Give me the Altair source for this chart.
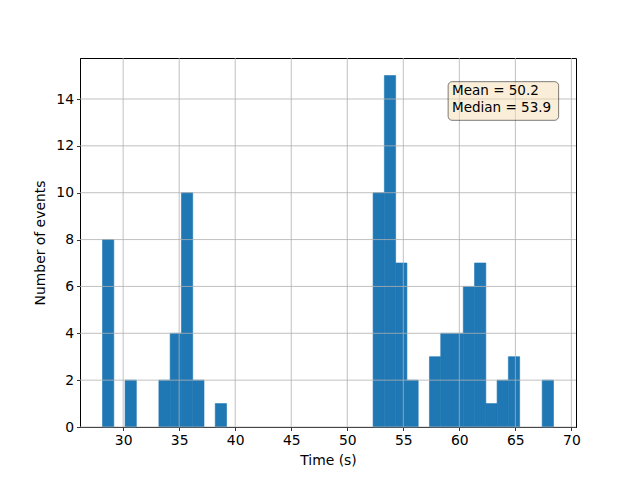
import altair as alt
import numpy as np
import pandas as pd

# Histogram: 40 bins between min and max of the sample
bin_lo = 28.16
bin_hi = 68.40
n_bins = 40
counts = [8, 0, 2, 0, 0, 2, 4, 10, 2, 0,
          1, 0, 0, 0, 0, 0, 0, 0, 0, 0,
          0, 0, 0, 0, 10, 15, 7, 2, 0, 3,
          4, 4, 6, 7, 1, 2, 3, 0, 0, 2]
x_ticks = [30, 35, 40, 45, 50, 55, 60, 65, 70]
y_ticks = [0, 2, 4, 6, 8, 10, 12, 14]
stats_text = "Mean = 50.2\nMedian = 53.9"

edges = np.linspace(bin_lo, bin_hi, n_bins + 1)
hist = pd.DataFrame({"start": edges[:-1], "end": edges[1:], "count": counts})
hist = hist[hist["count"] > 0]

xdom = [26.15, 70.41]
ydom = [0, 15.75]
xs = alt.Scale(domain=xdom, nice=False, zero=False)
ys = alt.Scale(domain=ydom, nice=False)

FONT = "DejaVu Sans"
FS = 13.9

bars = alt.Chart(hist).mark_bar(color="#1f77b4", stroke="#1f77b4", strokeWidth=0.6).encode(
    x=alt.X("start:Q", scale=xs, title="Time (s)",
            axis=alt.Axis(values=x_ticks, grid=False, format="d", titlePadding=6)),
    x2="end:Q",
    y=alt.Y("count:Q", scale=ys, title="Number of events",
            axis=alt.Axis(values=y_ticks, grid=False, format="d", titlePadding=8)),
    y2=alt.datum(0),
)

vgrid = alt.Chart(pd.DataFrame({"v": x_ticks})).mark_rule(
    color="#b0b0b0", strokeWidth=0.8).encode(x=alt.X("v:Q", scale=xs))
hgrid = alt.Chart(pd.DataFrame({"v": y_ticks})).mark_rule(
    color="#b0b0b0", strokeWidth=0.8).encode(y=alt.Y("v:Q", scale=ys))

box = alt.Chart(pd.DataFrame({"x": [59.0], "x2": [68.86], "y": [14.74], "y2": [13.09]})).mark_rect(
    fill="#f5deb3", fillOpacity=0.5, stroke="#000000", strokeOpacity=0.5,
    strokeWidth=1, cornerRadius=4).encode(
    x=alt.X("x:Q", scale=xs), x2="x2:Q",
    y=alt.Y("y:Q", scale=ys), y2="y2:Q")

label = alt.Chart(pd.DataFrame({"x": [59.35], "y": [14.66], "t": [stats_text]})).mark_text(
    align="left", baseline="top", font=FONT, fontSize=13.5, lineBreak="\n",
    lineHeight=17, color="black").encode(
    x=alt.X("x:Q", scale=xs), y=alt.Y("y:Q", scale=ys), text="t:N")

chart = alt.layer(bars, vgrid, hgrid, box, label).properties(
    width=496, height=369,
    autosize=alt.AutoSizeParams(type="none"),
    padding={"left": 72, "top": 50, "right": 56, "bottom": 45},
).configure_view(stroke="black", strokeWidth=1).configure_axis(
    domainColor="black", tickColor="black", tickSize=3.5, tickWidth=0.8,
    labelFont=FONT, labelFontSize=FS, labelColor="black",
    titleFont=FONT, titleFontSize=FS, titleFontWeight="normal", titleColor="black",
    labelPadding=3, domainWidth=1,
)

chart.save("out.html", embed_options={"renderer": "svg", "actions": False})
